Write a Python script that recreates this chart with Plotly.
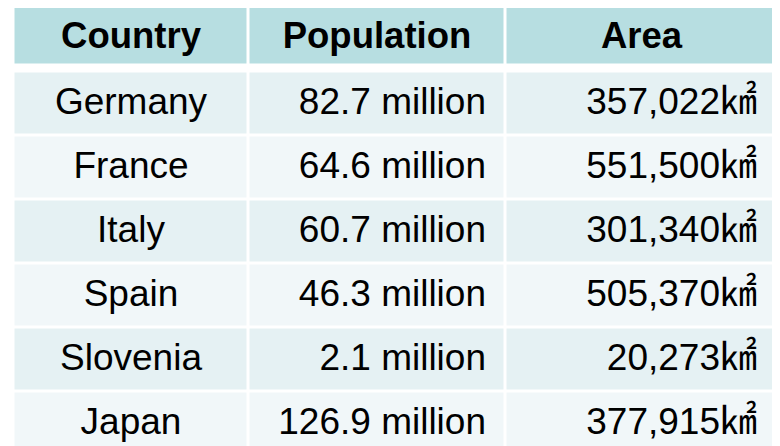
import plotly.graph_objects as go

# ---- data ----
header_labels = ["Country", "Population", "Area"]
countries = ["Germany", "France", "Italy", "Spain", "Slovenia", "Japan"]
population = ["82.7 million", "64.6 million", "60.7 million", "46.3 million", "2.1 million", "126.9 million"]
area = ["357,022㎢", "551,500㎢", "301,340㎢", "505,370㎢", "20,273㎢", "377,915㎢"]

# ---- layout (page pixels) ----
PAGE_OFF = 8                      # default body margin of the html page
W, H = 780 - PAGE_OFF, 446 - PAGE_OFF
col_edges = [13.5, 248.5, 505.5, 777.5]
header_edges = [4.5, 65.5]
body_top = 71.5
row_h = 64
row_edges = [body_top + i * row_h for i in range(len(countries) + 1)]
y_edges = header_edges + row_edges        # one empty (NaN) band between header and body
GAP = 3
PAD_POP = 19.5
PAD_AREA = 20.5
DY_HEADER = 3.5
DY_BODY = 1.5

HEADER_FILL = "#B7DEE1"
ODD_FILL = "#E5F1F3"
EVEN_FILL = "#F1F7F9"
FONT = "Liberation Sans, Arial, sans-serif"
FONT_AREA = "Liberation Sans, Noto Sans CJK KR, sans-serif"

n_rows = len(countries)
ncol = len(header_labels)
z = [[0] * ncol, [None] * ncol]
for i in range(n_rows):
    z.append([1 + (i % 2)] * ncol)

fig = go.Figure()
fig.add_trace(go.Heatmap(
    x=col_edges, y=y_edges, z=z,
    zmin=0, zmax=2,
    colorscale=[[0, HEADER_FILL], [0.5, ODD_FILL], [1, EVEN_FILL]],
    showscale=False, xgap=GAP, ygap=GAP, hoverinfo="skip",
))

col_centers = [(col_edges[i] + col_edges[i + 1]) / 2 for i in range(ncol)]
row_centers = [(row_edges[i] + row_edges[i + 1]) / 2 + DY_BODY for i in range(n_rows)]
header_center = (header_edges[0] + header_edges[1]) / 2 + DY_HEADER

# header texts
fig.add_trace(go.Scatter(
    x=col_centers, y=[header_center] * ncol, mode="text",
    text=[f"<b>{h}</b>" for h in header_labels], textposition="middle center",
    textfont=dict(family=FONT, size=36.5, color="black"), hoverinfo="skip",
))
# country column (centered)
fig.add_trace(go.Scatter(
    x=[col_centers[0]] * n_rows, y=row_centers, mode="text",
    text=countries, textposition="middle center",
    textfont=dict(family=FONT, size=37, color="black"), hoverinfo="skip",
))
# population column (right aligned)
fig.add_trace(go.Scatter(
    x=[col_edges[2] - PAD_POP] * n_rows, y=row_centers, mode="text",
    text=population, textposition="middle left",
    textfont=dict(family=FONT, size=37, color="black"), hoverinfo="skip",
))
# area column (right aligned)
fig.add_trace(go.Scatter(
    x=[col_edges[3] - PAD_AREA] * n_rows, y=row_centers, mode="text",
    text=area, textposition="middle left",
    textfont=dict(family=FONT_AREA, size=37, color="black"), hoverinfo="skip",
))

fig.update_layout(
    width=W, height=H,
    margin=dict(l=0, r=0, t=0, b=0),
    paper_bgcolor="white", plot_bgcolor="white",
    showlegend=False,
    xaxis=dict(range=[PAGE_OFF, 780], visible=False, fixedrange=True),
    yaxis=dict(range=[446, PAGE_OFF], visible=False, fixedrange=True),
)

fig.write_html("out.html", config={"staticPlot": True})
